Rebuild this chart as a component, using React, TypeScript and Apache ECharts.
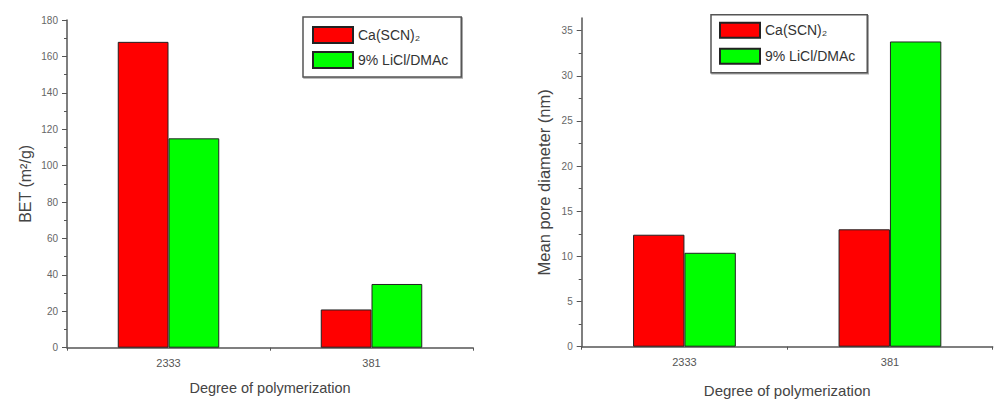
import React, { useEffect, useRef } from "react";
import * as echarts from "echarts";

const categories = ["2333", "381"];
const seriesNames = ["Ca(SCN)₂", "9% LiCl/DMAc"];
const betCa = [168, 21];
const betLiCl = [115, 35];
const poreCa = [12.4, 13.0];
const poreLiCl = [10.4, 33.8];
const poreTicks = [0, 5, 10, 15, 20, 25, 30, 35];

const RED = "#ff0000";
const GREEN = "#00ff00";
const FONT = "'Liberation Sans', Arial, sans-serif";

export default function App() {
  const ref = useRef<HTMLDivElement>(null);
  useEffect(() => {
    if (!ref.current) return;
    const chart = echarts.init(ref.current, null, { renderer: "svg" });
    const axisLine = { show: true, lineStyle: { color: "#555", width: 1.5 } };
    const xAxisBase = (gridIndex: number, gap: number, fs: number) => ({
      type: "category",
      gridIndex,
      data: categories,
      axisLine,
      axisTick: { show: true, length: 3, lineStyle: { color: "#555" } },
      axisLabel: { color: "#555", fontSize: 11, margin: 10, fontFamily: FONT },
      name: "Degree of polymerization",
      nameLocation: "middle",
      nameGap: gap,
      nameTextStyle: { color: "#444", fontSize: fs, fontFamily: FONT },
      splitLine: { show: false },
    });
    const legendBase = (left: number, top: number, pad: number[], itemH: number, gap: number) => ({
      left,
      top,
      orient: "vertical",
      itemWidth: 40,
      itemHeight: itemH,
      itemGap: gap,
      icon: "rect",
      padding: pad,
      borderColor: "#555",
      borderWidth: 1.5,
      backgroundColor: "#fff",
      textStyle: { color: "#333", fontSize: 14, fontFamily: FONT },
      shadowColor: "rgba(0,0,0,0.35)",
      shadowOffsetX: 1,
      shadowOffsetY: 1,
      shadowBlur: 1,
    });
    const barStyle = (c: string) => ({ color: c, borderColor: "#222", borderWidth: 1 });
    chart.setOption({
      animation: false,
      backgroundColor: "#fff",
      grid: [
        { left: 67, top: 20, width: 406, height: 327.7 },
        { left: 581.7, top: 18, width: 411, height: 328.7 },
      ],
      legend: [
        {
          ...legendBase(303, 17, [9, 13, 8, 9], 16, 7),
          data: seriesNames.map((n) => ({ name: n })),
        },
        {
          ...legendBase(711, 14.7, [7, 12, 8, 8], 15, 9),
          data: seriesNames.map((n) => ({ name: n })),
        },
      ],
      xAxis: [xAxisBase(0, 33, 14.5), xAxisBase(1, 36, 15)],
      yAxis: [
        {
          type: "value",
          gridIndex: 0,
          min: 0,
          max: 180,
          interval: 20,
          axisLine,
          axisTick: { show: true, inside: false, length: 5, lineStyle: { color: "#555" } },
          minorTick: { show: true, splitNumber: 2, length: 3, lineStyle: { color: "#555" } },
          axisLabel: { color: "#666", fontSize: 10, margin: 9, fontFamily: FONT },
          splitLine: { show: false },
          name: "BET (m²/g)",
          nameLocation: "middle",
          nameGap: 34,
          nameTextStyle: { color: "#444", fontSize: 16, fontFamily: FONT },
        },
        {
          type: "value",
          gridIndex: 1,
          min: 0,
          max: 36.4,
          interval: 5,
          axisLine,
          axisTick: { show: true, inside: false, length: 5, lineStyle: { color: "#555" }, customValues: poreTicks },
          minorTick: { show: true, splitNumber: 2, length: 3, lineStyle: { color: "#555" } },
          axisLabel: { color: "#666", fontSize: 10, margin: 9, fontFamily: FONT, customValues: poreTicks },
          splitLine: { show: false },
          name: "Mean pore diameter (nm)",
          nameLocation: "middle",
          nameGap: 29,
          nameTextStyle: { color: "#444", fontSize: 16.5, fontFamily: FONT },
        },
      ],
      series: [
        {
          type: "bar",
          name: seriesNames[0],
          xAxisIndex: 0,
          yAxisIndex: 0,
          data: betCa,
          barGap: "0%",
          barCategoryGap: "50%",
          itemStyle: barStyle(RED),
        },
        {
          type: "bar",
          name: seriesNames[1],
          xAxisIndex: 0,
          yAxisIndex: 0,
          data: betLiCl,
          barGap: "0%",
          barCategoryGap: "50%",
          itemStyle: barStyle(GREEN),
        },
        {
          type: "bar",
          name: seriesNames[0],
          xAxisIndex: 1,
          yAxisIndex: 1,
          data: poreCa,
          barGap: "0%",
          barCategoryGap: "50%",
          itemStyle: barStyle(RED),
        },
        {
          type: "bar",
          name: seriesNames[1],
          xAxisIndex: 1,
          yAxisIndex: 1,
          data: poreLiCl,
          barGap: "0%",
          barCategoryGap: "50%",
          itemStyle: barStyle(GREEN),
        },
      ],
    });
    return () => chart.dispose();
  }, []);
  return (
    <div
      ref={ref}
      style={{ position: "fixed", left: 0, top: 0, width: 1003, height: 407, background: "#fff" }}
    />
  );
}
